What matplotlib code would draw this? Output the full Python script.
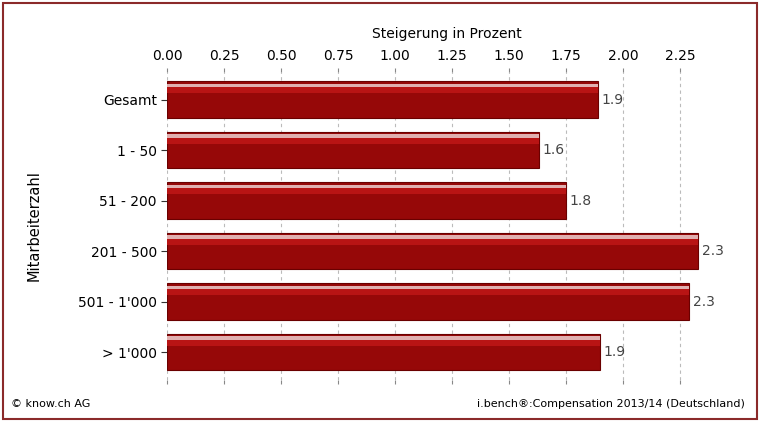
import matplotlib.pyplot as plt
from matplotlib.patches import Rectangle

categories = ["Gesamt", "1 - 50", "51 - 200", "201 - 500", "501 - 1'000", "> 1'000"]
values = [1.89, 1.63, 1.75, 2.33, 2.29, 1.90]
labels = ["1.9", "1.6", "1.8", "2.3", "2.3", "1.9"]
ticks = [0, 0.25, 0.5, 0.75, 1.0, 1.25, 1.5, 1.75, 2.0, 2.25]

fig = plt.figure(figsize=(7.6, 4.22), dpi=100)
fig.patches.append(Rectangle((0.004, 0.006), 0.992, 0.988, transform=fig.transFigure,
                             fill=False, edgecolor="#8b2a2a", linewidth=1.5))
ax = fig.add_axes([0.22, 0.10, 0.735, 0.73])

y = list(range(len(categories)))[::-1]
h = 0.72
ax.barh(y, values, height=h, color="#960808", edgecolor="#6a0000", linewidth=0.8, zorder=3)
# lighter highlight stripe near top of each bar
ax.barh([v + h / 2 - 0.08 for v in y], values, height=0.07, color="#e0b0b0", linewidth=0, zorder=4)
ax.barh([v + h / 2 - 0.18 for v in y], values, height=0.12, color="#b81414", linewidth=0, zorder=4)
for yy, v, t in zip(y, values, labels):
    ax.text(v + 0.015, yy, t, va="center", ha="left", fontsize=10, color="#444444")

ax.set_xlim(0, 2.45)
ax.set_ylim(-0.55, 5.55)
ax.set_xticks(ticks)
ax.set_xticklabels([f"{t:.2f}" for t in ticks], fontsize=10)
ax.xaxis.tick_top()
ax.tick_params(axis="x", which="both", top=True, bottom=True, length=3, color="#888888")
ax.xaxis.set_label_position("top")
ax.set_xlabel("Steigerung in Prozent", fontsize=10, labelpad=8)
ax.set_yticks(y)
ax.set_yticklabels(categories, fontsize=10)
ax.tick_params(axis="y", length=4, color="#333333")
ax.set_ylabel("Mitarbeiterzahl", fontsize=10.5, labelpad=26)
ax.grid(axis="x", linestyle=(0, (3, 3)), color="#bbbbbb", linewidth=0.8, zorder=0)
for s in ax.spines.values():
    s.set_visible(False)

fig.text(0.015, 0.035, "© know.ch AG", fontsize=8)
fig.text(0.98, 0.035, "i.bench®:Compensation 2013/14 (Deutschland)", fontsize=8, ha="right")
fig.savefig("out.png", dpi=100)
